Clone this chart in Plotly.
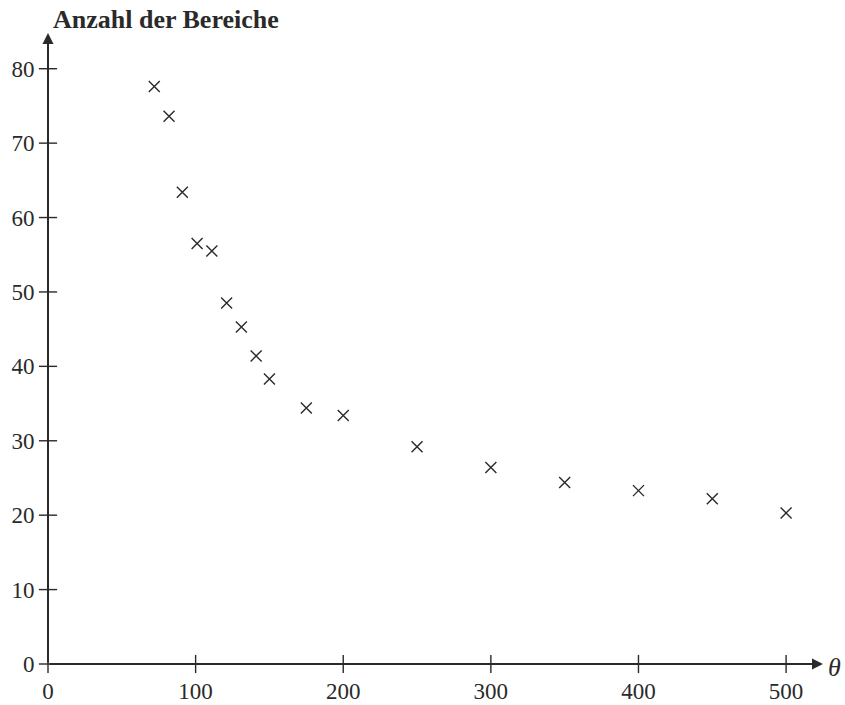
import plotly.graph_objects as go

theta = [72, 82, 91, 101, 111, 121, 131, 141, 150, 175, 200, 250, 300, 350, 400, 450, 500]
anzahl = [77.6, 73.6, 63.4, 56.5, 55.5, 48.5, 45.3, 41.4, 38.3, 34.4, 33.4, 29.2, 26.4, 24.4, 23.3, 22.2, 20.3]
x_ticks = [0, 100, 200, 300, 400, 500]
y_ticks = [0, 10, 20, 30, 40, 50, 60, 70, 80]
y_title = "Anzahl der Bereiche"
x_title = "θ"

ink = "#2a2a2a"
serif = "Liberation Serif, DejaVu Serif, serif"
XMAX = 525
YMAX = 84.8
PX_X = 1.4757

fig = go.Figure()
fig.add_trace(go.Scatter(
    x=theta, y=anzahl, mode="markers",
    marker=dict(symbol="x-thin", size=11, line=dict(width=1.4, color=ink), color=ink),
    showlegend=False, cliponaxis=False, hoverinfo="x+y",
))
# crossing tick marks (drawn through the axes, both sides)
fig.add_trace(go.Scatter(
    x=x_ticks, y=[0] * len(x_ticks), mode="markers",
    marker=dict(symbol="line-ns", size=13, line=dict(width=1.4, color=ink)),
    showlegend=False, cliponaxis=False, hoverinfo="skip",
))
fig.add_trace(go.Scatter(
    x=[0] * len(y_ticks), y=y_ticks, mode="markers",
    marker=dict(symbol="line-ew", size=13, line=dict(width=1.4, color=ink)),
    showlegend=False, cliponaxis=False, hoverinfo="skip",
))

common = dict(showgrid=False, zeroline=False, showline=False, automargin=False,
              ticks="outside", ticklen=6, tickcolor="rgba(0,0,0,0)")
fig.update_layout(
    template="none",
    width=845, height=705,
    margin=dict(l=48, r=845 - 48 - round(XMAX * PX_X), t=33, b=41, pad=0),
    plot_bgcolor="white", paper_bgcolor="white",
    font=dict(family=serif, color=ink),
    xaxis=dict(range=[0, XMAX], tickvals=x_ticks,
               tickfont=dict(size=23, family=serif, color=ink), **common),
    yaxis=dict(range=[0, YMAX], tickvals=y_ticks, ticklabelstandoff=2,
               tickfont=dict(size=23, family=serif, color=ink), **common),
)

# axis lines with arrowheads
fig.add_annotation(x=XMAX, y=0, ax=0, ay=0, xref="x", yref="y", axref="x", ayref="y",
                   showarrow=True, arrowhead=2, arrowsize=1.1, arrowwidth=2, arrowcolor=ink, text="")
fig.add_annotation(x=0, y=YMAX, ax=0, ay=0, xref="x", yref="y", axref="x", ayref="y",
                   showarrow=True, arrowhead=2, arrowsize=1.1, arrowwidth=2, arrowcolor=ink, text="")

fig.add_annotation(x=0, y=YMAX, xref="x", yref="y", text="<b>" + y_title + "</b>",
                   showarrow=False, xanchor="left", yanchor="bottom", xshift=3, yshift=-3,
                   font=dict(size=26, family=serif, color=ink))
fig.add_annotation(x=XMAX, y=0, xref="x", yref="y", text="<i>" + x_title + "</i>",
                   showarrow=False, xanchor="left", yanchor="middle", xshift=3, yshift=-3,
                   font=dict(size=26, family=serif, color=ink))

fig.write_html("out.html", config={"displayModeBar": False},
               post_script="document.body.style.margin='0';document.body.style.padding='0';")
